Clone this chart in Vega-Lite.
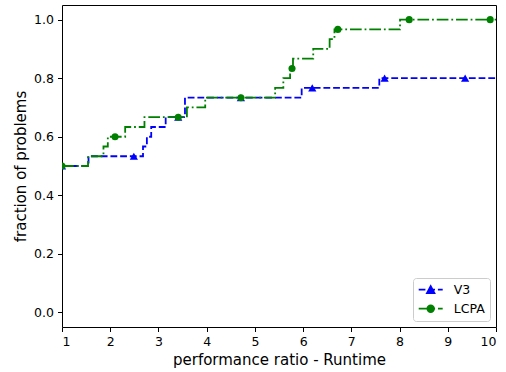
{
  "$schema": "https://vega.github.io/schema/vega-lite/v6.json",
  "width": 434,
  "height": 322,
  "autosize": {"type": "none"},
  "padding": {"left": 62, "top": 5, "right": 10, "bottom": 45},
  "background": "white",
  "config": {
    "font": "DejaVu Sans",
    "view": {"stroke": "black", "strokeWidth": 1},
    "axis": {
      "grid": false,
      "domain": false,
      "tickColor": "black",
      "tickSize": 4.5,
      "tickWidth": 1,
      "labelPadding": 4,
      "labelFont": "DejaVu Sans",
      "labelFontSize": 12.5,
      "labelColor": "black",
      "titleFont": "DejaVu Sans",
      "titleFontSize": 15,
      "titleFontWeight": "normal",
      "titleColor": "black"
    }
  },
  "datasets": {
    "steps": [
      {"series": "V3", "ratio": 1, "frac": 0.5},
      {"series": "V3", "ratio": 1.55, "frac": 0.5333},
      {"series": "V3", "ratio": 2.68, "frac": 0.5667},
      {"series": "V3", "ratio": 2.76, "frac": 0.6},
      {"series": "V3", "ratio": 2.85, "frac": 0.6333},
      {"series": "V3", "ratio": 3.15, "frac": 0.6667},
      {"series": "V3", "ratio": 3.55, "frac": 0.7333},
      {"series": "V3", "ratio": 5.97, "frac": 0.7667},
      {"series": "V3", "ratio": 7.58, "frac": 0.8},
      {"series": "V3", "ratio": 10, "frac": 0.8},
      {"series": "LCPA", "ratio": 1, "frac": 0.5},
      {"series": "LCPA", "ratio": 1.54, "frac": 0.5333},
      {"series": "LCPA", "ratio": 1.86, "frac": 0.5667},
      {"series": "LCPA", "ratio": 1.95, "frac": 0.6},
      {"series": "LCPA", "ratio": 2.31, "frac": 0.6333},
      {"series": "LCPA", "ratio": 2.71, "frac": 0.6667},
      {"series": "LCPA", "ratio": 3.59, "frac": 0.7},
      {"series": "LCPA", "ratio": 3.97, "frac": 0.7333},
      {"series": "LCPA", "ratio": 5.42, "frac": 0.7667},
      {"series": "LCPA", "ratio": 5.59, "frac": 0.8},
      {"series": "LCPA", "ratio": 5.73, "frac": 0.8333},
      {"series": "LCPA", "ratio": 5.79, "frac": 0.8667},
      {"series": "LCPA", "ratio": 6.21, "frac": 0.9},
      {"series": "LCPA", "ratio": 6.55, "frac": 0.9333},
      {"series": "LCPA", "ratio": 6.65, "frac": 0.9667},
      {"series": "LCPA", "ratio": 8.01, "frac": 1.0},
      {"series": "LCPA", "ratio": 10, "frac": 1.0}
    ],
    "markers": [
      {"series": "V3", "ratio": 1, "frac": 0.5},
      {"series": "V3", "ratio": 2.49, "frac": 0.5333},
      {"series": "V3", "ratio": 3.41, "frac": 0.6667},
      {"series": "V3", "ratio": 4.71, "frac": 0.7333},
      {"series": "V3", "ratio": 6.19, "frac": 0.7667},
      {"series": "V3", "ratio": 7.69, "frac": 0.8},
      {"series": "V3", "ratio": 9.36, "frac": 0.8},
      {"series": "LCPA", "ratio": 1, "frac": 0.5},
      {"series": "LCPA", "ratio": 2.1, "frac": 0.6},
      {"series": "LCPA", "ratio": 3.41, "frac": 0.6667},
      {"series": "LCPA", "ratio": 4.71, "frac": 0.7333},
      {"series": "LCPA", "ratio": 5.77, "frac": 0.8333},
      {"series": "LCPA", "ratio": 6.72, "frac": 0.9667},
      {"series": "LCPA", "ratio": 8.2, "frac": 1.0},
      {"series": "LCPA", "ratio": 9.88, "frac": 1.0}
    ]
  },
  "encoding": {
    "x": {
      "field": "ratio",
      "type": "quantitative",
      "scale": {"domain": [1, 10], "nice": false, "zero": false},
      "axis": {
        "title": "performance ratio - Runtime",
        "values": [1, 2, 3, 4, 5, 6, 7, 8, 9, 10],
        "format": "d",
        "titlePadding": 4
      }
    },
    "y": {
      "field": "frac",
      "type": "quantitative",
      "scale": {"domain": [-0.05, 1.05], "nice": false, "zero": false},
      "axis": {
        "title": "fraction of problems",
        "values": [0, 0.2, 0.4, 0.6, 0.8, 1.0],
        "format": ".1f",
        "titlePadding": 5
      }
    },
    "color": {
      "field": "series",
      "type": "nominal",
      "scale": {"domain": ["V3", "LCPA"], "range": ["#0000ff", "#008000"]},
      "legend": {
        "title": null,
        "orient": "bottom-right",
        "offset": 6,
        "padding": 4.7,
        "strokeColor": "#cccccc",
        "cornerRadius": 3,
        "fillColor": "white",
        "symbolSize": 144,
        "symbolStrokeWidth": 1.8,
        "labelOffset": 22,
        "rowPadding": 5,
        "labelFont": "DejaVu Sans",
        "labelFontSize": 12.5,
        "labelColor": "black",
        "encode": {
          "symbols": {
            "update": {
              "shape": {"signal": "datum.value === 'V3' ? 'M-1,0H0.12M0.6,0H1.72M2.2,0H3M1,-0.6L1.62,0.55L0.38,0.55Z' : 'M-1,0H0.95M1.43,0H1.73M2.21,0H3M1.55,0A0.55,0.55 0 1,1 0.45,0A0.55,0.55 0 1,1 1.55,0Z'"},
              "fill": {"signal": "datum.value === 'V3' ? '#0000ff' : '#008000'"},
              "stroke": {"signal": "datum.value === 'V3' ? '#0000ff' : '#008000'"}
            }
          }
        }
      }
    }
  },
  "layer": [
    {
      "data": {"name": "steps"},
      "transform": [{"filter": "datum.series === 'V3'"}],
      "mark": {"type": "line", "interpolate": "step-after", "strokeWidth": 1.8, "strokeDash": [6.8, 2.9], "clip": true}
    },
    {
      "data": {"name": "markers"},
      "transform": [{"filter": "datum.series === 'V3'"}],
      "mark": {"type": "point", "shape": "triangle-up", "filled": true, "size": 68, "opacity": 1, "clip": true}
    },
    {
      "data": {"name": "steps"},
      "transform": [{"filter": "datum.series === 'LCPA'"}],
      "mark": {"type": "line", "interpolate": "step-after", "strokeWidth": 1.8, "strokeDash": [11.7, 2.9, 1.8, 2.9], "clip": true}
    },
    {
      "data": {"name": "markers"},
      "transform": [{"filter": "datum.series === 'LCPA'"}],
      "mark": {"type": "point", "shape": "circle", "filled": true, "size": 50, "opacity": 1, "clip": true}
    }
  ]
}
